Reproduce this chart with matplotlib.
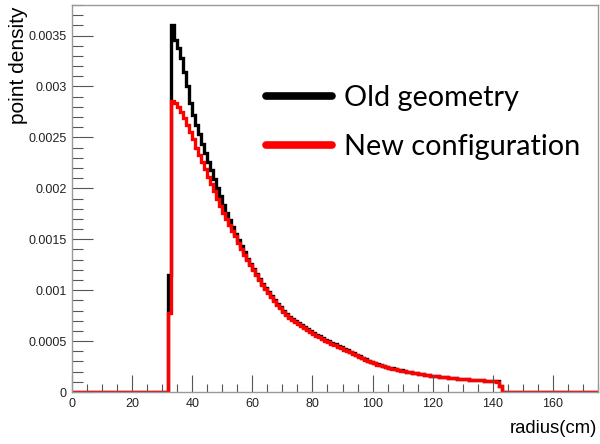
import numpy as np
import matplotlib
matplotlib.use('Agg')
import matplotlib.pyplot as plt
from matplotlib.lines import Line2D
from matplotlib.ticker import MultipleLocator, FuncFormatter

# 1 cm bins, first filled bin starts at 32 cm
radiusStart = 32
radiusMax = 175

oldGeometry = [
    0.00115,
    0.00360, 0.00346, 0.00338, 0.00328, 0.00314, 0.00300, 0.00284, 0.00272, 0.00262, 0.00253,
    0.00244, 0.00235, 0.00226, 0.00218, 0.00209, 0.00200, 0.00192, 0.00184, 0.00176, 0.00169,
    0.00162, 0.00155, 0.00149, 0.00143, 0.00137, 0.00131, 0.00126, 0.00121, 0.00116, 0.00111,
    0.00106, 0.00102, 0.00098, 0.00094, 0.00090, 0.00086, 0.00083, 0.00080, 0.00077, 0.00074,
    0.00072, 0.00070, 0.00068, 0.00066, 0.00064, 0.00062, 0.00060, 0.00058, 0.00056, 0.00055,
    0.00053, 0.00051, 0.00050, 0.00048, 0.00047, 0.00045, 0.00044, 0.00042, 0.00041, 0.00039,
    0.00038, 0.00036, 0.00035, 0.00033, 0.00032, 0.00030, 0.00029, 0.00028, 0.000272, 0.000264,
    0.000256, 0.000248, 0.00024, 0.000232, 0.000225, 0.000219, 0.000213, 0.000207, 0.000201, 0.000196,
    0.000191, 0.000186, 0.000181, 0.000176, 0.000171, 0.000166, 0.000162, 0.000158, 0.000154, 0.00015,
    0.000147, 0.000144, 0.000141, 0.000138, 0.000135, 0.000132, 0.000129, 0.000126, 0.000124, 0.000122,
    0.00012, 0.000118, 0.000116, 0.000114, 0.000112, 0.00011, 0.000108, 0.000106, 0.000104, 0.00006,
]

newConfiguration = [
    0.00078,
    0.00286, 0.00284, 0.00280, 0.00275, 0.00269, 0.00262, 0.00255, 0.00248, 0.00240, 0.00233,
    0.00226, 0.00219, 0.00211, 0.00204, 0.00197, 0.00190, 0.00183, 0.00176, 0.00170, 0.00164,
    0.00158, 0.00153, 0.00146, 0.00140, 0.00135, 0.00130, 0.00125, 0.00120, 0.00115, 0.00110,
    0.00105, 0.00101, 0.00097, 0.00093, 0.00089, 0.00085, 0.00082, 0.00079, 0.00076, 0.00073,
    0.00071, 0.00069, 0.00067, 0.00065, 0.00063, 0.00061, 0.00059, 0.00057, 0.00055, 0.00054,
    0.00052, 0.00050, 0.00049, 0.00047, 0.00046, 0.00044, 0.00043, 0.00041, 0.00040, 0.00039,
    0.00037, 0.00036, 0.00034, 0.00033, 0.00031, 0.00030, 0.00029, 0.00028, 0.00027, 0.000262,
    0.000254, 0.000246, 0.000238, 0.00023, 0.000223, 0.000217, 0.000211, 0.000205, 0.0002, 0.000195,
    0.00019, 0.000185, 0.00018, 0.000175, 0.00017, 0.000165, 0.000161, 0.000157, 0.000153, 0.000149,
    0.000146, 0.000143, 0.00014, 0.000137, 0.000134, 0.000131, 0.000128, 0.000125, 0.000123, 0.000121,
    0.000119, 0.000117, 0.000115, 0.000113, 0.000111, 0.000109, 0.000107, 0.000105, 0.000103, 0.00006,
]

legendLabels = ['Old geometry', 'New configuration']


def fullHistogram(vals):
    counts = np.zeros(radiusMax)
    counts[radiusStart:radiusStart + len(vals)] = vals
    return counts


edges = np.arange(0, radiusMax + 1)

plt.rcParams['font.family'] = ['Liberation Sans', 'DejaVu Sans']

fig = plt.figure(figsize=(6, 4.44), dpi=100)
ax = fig.add_axes([72 / 600, 1 - 392 / 444, 526 / 600, 387 / 444])

ax.stairs(fullHistogram(oldGeometry), edges, color='black', lw=2.4, baseline=None)
ax.stairs(fullHistogram(newConfiguration), edges, color='red', lw=2.4, baseline=None)

ax.set_xlim(0, radiusMax)
ax.set_ylim(0, 0.0038)

ax.xaxis.set_major_locator(MultipleLocator(20))
ax.xaxis.set_minor_locator(MultipleLocator(5))
ax.yaxis.set_major_locator(MultipleLocator(0.0005))
ax.yaxis.set_minor_locator(MultipleLocator(0.0001))
ax.yaxis.set_major_formatter(FuncFormatter(lambda v, p: '%g' % round(v, 6)))

ax.tick_params(which='both', direction='in', color='#555555', width=0.8,
               labelsize=9, labelcolor='#222222')
ax.tick_params(axis='y', which='major', length=15, pad=4)
ax.tick_params(axis='y', which='minor', length=8)
ax.tick_params(axis='x', which='major', length=12, pad=4)
ax.tick_params(axis='x', which='minor', length=6)

for side in ax.spines.values():
    side.set_color('#999999')
    side.set_linewidth(1.0)

fig.text(597 / 600, 1 - 428 / 444, 'radius(cm)', ha='right', va='center', fontsize=13.3)
fig.text(19 / 600, 1 - 7 / 444, 'point density', rotation=90, ha='center', va='top', fontsize=15)

handles = [Line2D([], [], color='black', lw=5.5, solid_capstyle='round'),
           Line2D([], [], color='red', lw=5.5, solid_capstyle='round')]
fig.legend(handles, legendLabels, loc='upper left', bbox_to_anchor=(266 / 600, 1 - 85 / 444),
           frameon=False, prop={'family': 'Lato', 'size': 20.8}, handlelength=2.3,
           handletextpad=0.4, labelspacing=0.8, borderpad=0, borderaxespad=0)

fig.savefig('out.png', dpi=100)
